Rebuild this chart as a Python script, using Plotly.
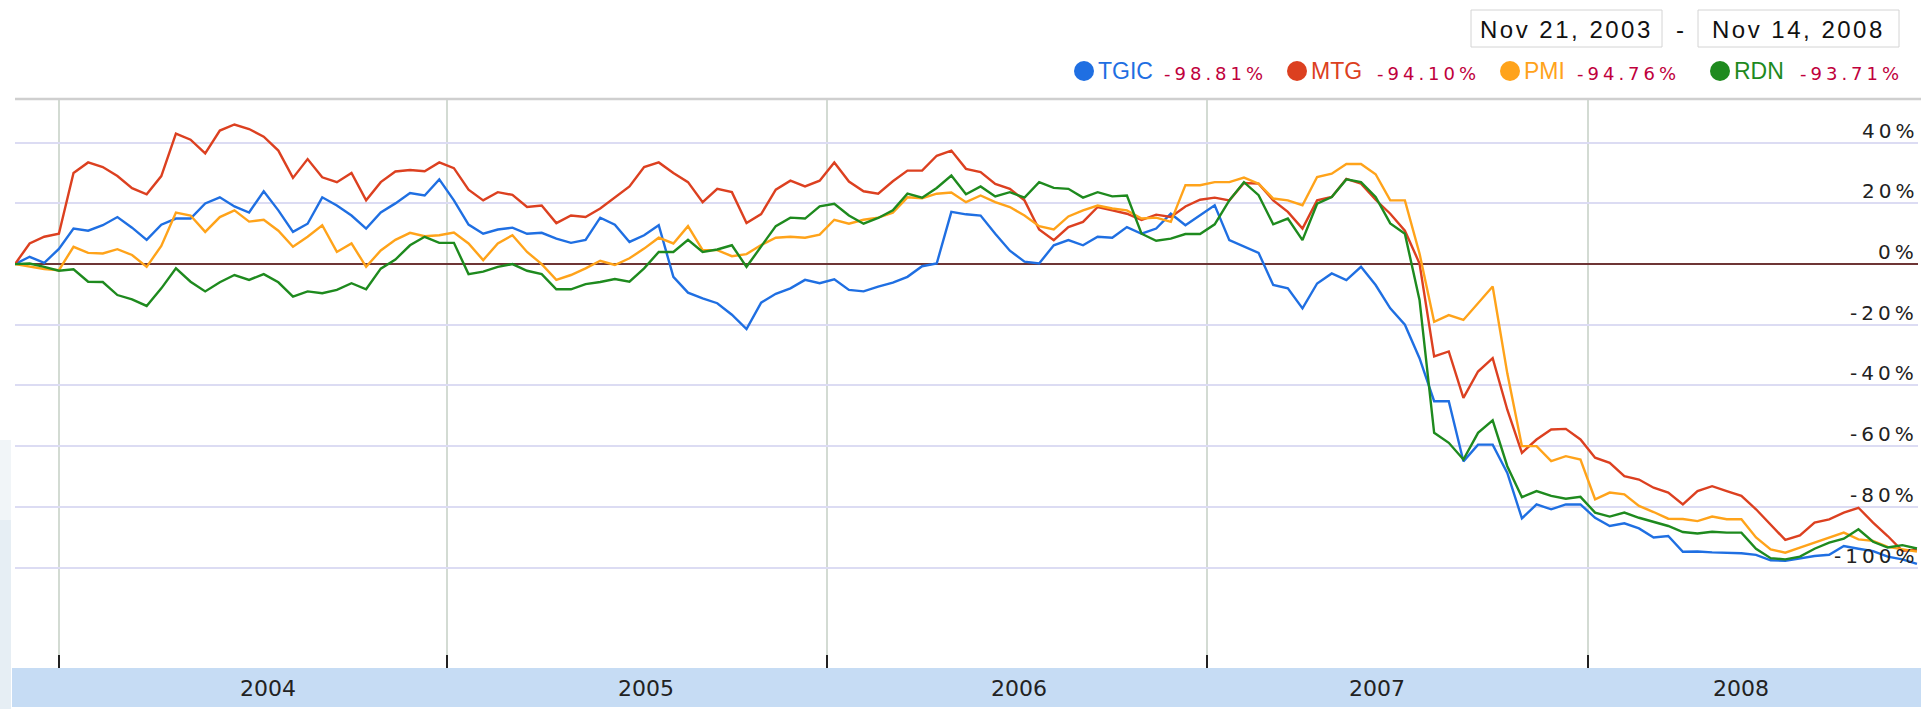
import plotly.graph_objects as go
import pandas as pd

# ---------------- data (bi-weekly samples) ----------------
start_date = "2003-11-21"
n_points = 131
dates = pd.date_range(start_date, periods=n_points, freq="14D")

tgic = [
    0, 2.4, 0.4, 5, 11.7, 11, 12.8, 15.5, 12, 8, 13, 15, 15, 20, 22, 19, 17, 24, 17.7, 10.6, 13.3, 22, 19.3, 16, 11.7, 17,
    20, 23.4, 22.6, 27.9, 21, 13, 10, 11.4, 12, 10, 10.3, 8.4, 7, 8, 15.3, 13, 7.3, 9.5, 12.8, -4.2, -9.4, -11.3, -12.9, -16.7, -21.4, -12.7,
    -9.8, -8, -5.2, -6.3, -5, -8.5, -9, -7.4, -6.1, -4.2, -0.7, 0.2, 17.2, 16.4, 16, 10, 4.4, 0.8, 0.2, 6.2, 7.9, 6.2, 9, 8.7, 12.2, 10,
    11.7, 16.6, 12.8, 16.1, 19.4, 7.9, 5.7, 3.7, -6.9, -8, -14.6, -6.4, -3.1, -5.3, -0.9, -6.9, -14.6, -20, -31, -45.2, -45.2, -65, -59.5, -59.5, -68.8, -83.8,
    -79.2, -80.8, -79.2, -79.2, -83.6, -86.3, -85.4, -87.1, -90.1, -89.6, -94.8, -94.7, -95, -95.1, -95.3, -95.8, -97.6, -97.8, -97, -96.2, -95.8, -92.9, -93.8, -94.6, -96.4, -97.3, -98.81,
]
mtg = [
    0, 6.8, 9, 10, 30, 33.5, 32, 29, 25, 23, 29, 43, 41, 36.5, 44, 46, 44.5, 42, 37.4, 28.4, 34.6, 28.6, 27, 30, 21, 27,
    30.5, 31, 30.6, 33.5, 31.6, 24.5, 21, 23.7, 22.8, 18.8, 19.3, 13.5, 16, 15.5, 18.3, 22, 25.6, 32, 33.5, 30, 27, 20.4, 24.8, 23.7, 13.5, 16.5,
    24.5, 27.5, 25.6, 27.5, 33.5, 27.2, 24, 23.2, 27.3, 30.8, 30.8, 35.7, 37.4, 31.4, 30.3, 26.4, 24.8, 21, 11.4, 7.9, 12.2, 13.9, 18.8, 17.7, 16.6, 14.5,
    16.3, 15.5, 19, 21.2, 21.9, 21, 26.7, 26.5, 21, 17.2, 11.7, 21, 22.1, 28.1, 26.5, 21.2, 16.6, 11, 0.2, -30.4, -28.8, -44.1, -35.4, -31, -48, -62.2,
    -57.8, -54.5, -54.3, -57.8, -63.8, -65.5, -69.9, -71, -73.7, -75.3, -79.2, -74.8, -73.2, -74.8, -76.4, -80.8, -85.8, -90.9, -89.4, -85.2, -84.1, -81.9, -80.3, -85.2, -89.6, -94.5, -94.1,
]
pmi = [
    0, -0.9, -1.6, -2, 5.7, 3.7, 3.5, 4.9, 3, -0.9, 6, 17, 16, 10.6, 15.5, 17.7, 14, 14.6, 11, 5.7, 9, 12.8, 4, 6.8, -0.9, 4.5,
    8, 10.3, 9.2, 9.5, 10.4, 6.8, 1.3, 6.8, 9.5, 4, 0, -5.2, -3.6, -1.4, 1.1, -0.3, 1.9, 5.1, 8.7, 6.8, 12.5, 4.6, 4.6, 2.6, 3.3, 6.3,
    8.7, 9, 8.7, 9.7, 14.6, 13.3, 14.6, 15.3, 16.9, 22, 21.7, 23.2, 23.6, 20.4, 22.6, 20.4, 18.8, 16, 12.5, 11.4, 15.7, 17.7, 19.3, 18.3, 17.7, 15,
    15.3, 13.9, 26, 26, 27, 27, 28.5, 26.5, 21.6, 21, 19.4, 28.7, 29.8, 33, 33, 29.6, 21, 21, 3.5, -19, -16.8, -18.4, -12.9, -7.4, -36, -60,
    -60, -64.9, -63.3, -64.4, -77.5, -75.3, -75.9, -79.7, -81.7, -83.9, -84, -84.7, -83.2, -84.1, -84.1, -90.1, -94, -95.1, -93.4, -91.8, -90.1, -88.5, -90.7, -91.2, -93.2, -94, -94.76,
]
rdn = [
    0, 0.2, -0.9, -2.2, -1.7, -5.8, -5.9, -10.2, -11.6, -13.8, -8, -1.4, -5.8, -9, -6, -3.6, -5.2, -3.3, -6, -10.7, -9, -9.6, -8.5, -6.3, -8.3, -1.5,
    1.5, 6.2, 9, 7, 7, -3.3, -2.5, -0.9, 0, -2.2, -3.3, -8.3, -8.3, -6.6, -5.9, -4.9, -5.8, -1.4, 4, 4, 8, 4, 4.8, 6.2, -0.9, 6,
    12.5, 15.3, 15, 19, 19.9, 16, 13.3, 15.2, 17.7, 23.2, 21.9, 25.1, 29.2, 23, 25.6, 22.3, 23.7, 21.9, 27, 25.1, 24.8, 21.9, 23.7, 22.3, 22.6, 10,
    7.7, 8.4, 9.9, 9.9, 13.1, 21, 27, 22.7, 13.1, 15, 7.9, 19.9, 22.1, 27.9, 27, 22.1, 13.4, 10, -11.8, -55.6, -58.9, -64.4, -55.6, -51.5, -66.6, -76.8,
    -74.8, -76.4, -77.3, -76.7, -81.9, -83.2, -81.9, -83.6, -85, -86.3, -88.3, -88.8, -88.2, -88.5, -88.5, -93.8, -96.9, -97.3, -96.4, -93.8, -91.8, -90.5, -87.4, -91.5, -93.4, -92.6, -93.71,
]

series_names = ["TGIC", "MTG", "PMI", "RDN"]
series_changes = ["-98.81%", "-94.10%", "-94.76%", "-93.71%"]
series_colors = ["#1f6fe2", "#dc4020", "#ffa31a", "#1e8a1e"]

y_tick_values = [40, 20, 0, -20, -40, -60, -80, -100]
y_tick_labels = ["40%", "20%", "0%", "-20%", "-40%", "-60%", "-80%", "-100%"]
year_lines = ["2004-01-02", "2005-01-07", "2006-01-06", "2007-01-05", "2008-01-04"]
year_labels = ["2004", "2005", "2006", "2007", "2008"]
year_label_dates = ["2004-07-20", "2005-07-17", "2006-07-09", "2007-06-16", "2008-05-30"]
date_from = "Nov 21, 2003"
date_to = "Nov 14, 2008"

# ---------------- layout geometry ----------------
W, H = 1927, 709
L, R, T, B = 15, 9, 99, 41
PW, PH = W - L - R, H - T - B


def px(x):
    return (x - L) / PW


def py(y):
    return (H - B - y) / PH


fig = go.Figure()
for name, vals, col in zip(series_names, [tgic, mtg, pmi, rdn], series_colors):
    fig.add_trace(go.Scatter(x=dates, y=vals, mode="lines", name=name,
                             line=dict(color=col, width=2.4), showlegend=False,
                             hoverinfo="skip"))

annotations = []
# y labels inside the plot on the right, just above the gridlines
for v, lab in zip(y_tick_values, y_tick_labels):
    annotations.append(dict(x=px(1920), xref="paper", y=v, yref="y", xanchor="right", yanchor="bottom",
                            yshift=-2, showarrow=False,
                            text=f'<span style="letter-spacing:4px">{lab}</span>',
                            font=dict(family="DejaVu Sans", size=20, color="#222222")))
# year labels in the bottom bar
for d, lab in zip(year_label_dates, year_labels):
    annotations.append(dict(x=d, xref="x", y=py(688), yref="paper", xanchor="center", yanchor="middle",
                            showarrow=False, text=lab,
                            font=dict(family="DejaVu Sans", size=22, color="#222222")))

# legend row: dot centre, name left, change left (pixels)
legend_layout = [
    (1084, 1096, 1162),
    (1297, 1309, 1375),
    (1510, 1522, 1575),
    (1720, 1732, 1798),
]
shapes = []
for (dot_x, name_x, chg_x), name, chg, col in zip(legend_layout, series_names, series_changes, series_colors):
    shapes.append(dict(type="circle", xref="paper", yref="paper", xsizemode="pixel", ysizemode="pixel",
                       xanchor=px(dot_x), yanchor=py(71), x0=-10, x1=10, y0=-10, y1=10,
                       fillcolor=col, line=dict(width=0)))
    annotations.append(dict(x=px(name_x), xref="paper", y=py(71), yref="paper", xanchor="left",
                            yanchor="middle", showarrow=False, text=name,
                            font=dict(family="Liberation Sans", size=23, color=col)))
    annotations.append(dict(x=px(chg_x), xref="paper", y=py(73), yref="paper", xanchor="left",
                            yanchor="middle", showarrow=False,
                            text=f'<span style="letter-spacing:4px">{chg}</span>',
                            font=dict(family="DejaVu Sans", size=18, color="#c0003c")))

# date range boxes
for (x0, x1), txt in [((1471, 1662), date_from), ((1698, 1899), date_to)]:
    shapes.append(dict(type="rect", xref="paper", yref="paper", x0=px(x0), x1=px(x1),
                       y0=py(47), y1=py(10), fillcolor="white", line=dict(color="#d4d4d4", width=1)))
    annotations.append(dict(x=px((x0 + x1) / 2), xref="paper", y=py(29), yref="paper", xanchor="center",
                            yanchor="middle", showarrow=False,
                            text=f'<span style="letter-spacing:2.5px">{txt}</span>',
                            font=dict(family="Liberation Sans", size=24, color="#111111")))
annotations.append(dict(x=px(1680), xref="paper", y=py(29), yref="paper", xanchor="center",
                        yanchor="middle", showarrow=False, text="-",
                        font=dict(family="Liberation Sans", size=24, color="#111111")))

# bottom blue bar, left strip, top border
shapes.append(dict(type="rect", xref="paper", yref="paper", x0=px(12), x1=px(1921), y0=0, y1=py(707),
                   fillcolor="#c6dcf4", line=dict(width=0), layer="below"))
shapes.append(dict(type="rect", xref="paper", yref="paper", x0=px(0), x1=px(11), y0=py(709), y1=py(520),
                   fillcolor="#e6eef4", line=dict(width=0), layer="below"))
shapes.append(dict(type="rect", xref="paper", yref="paper", x0=px(0), x1=px(11), y0=py(520), y1=py(440),
                   fillcolor="#f1f5f8", line=dict(width=0), layer="below"))
shapes.append(dict(type="line", xref="paper", yref="paper", x0=px(15), x1=px(1921), y0=1, y1=1,
                   line=dict(color="#cfcfcf", width=2.5)))

fig.update_layout(
    width=W, height=H,
    margin=dict(l=L, r=R, t=T, b=B, pad=0),
    paper_bgcolor="white", plot_bgcolor="white",
    annotations=annotations, shapes=shapes,
    showlegend=False,
    xaxis=dict(type="date", range=["2003-11-21", "2008-11-15"], tickvals=year_lines,
               showticklabels=False, showgrid=True, gridcolor="#d3dbd3", gridwidth=1.5,
               ticks="inside", ticklen=13, tickwidth=2, tickcolor="#222222",
               showline=False, zeroline=False),
    yaxis=dict(range=[-133.1, 54.4], tickvals=[v for v in y_tick_values if v != 0],
               showticklabels=False, showgrid=True, gridcolor="#dcdcf3", gridwidth=2,
               zeroline=True, zerolinecolor="#6e3535", zerolinewidth=2,
               showline=False, ticks=""),
)

fig.write_html("out.html", config={"displayModeBar": False},
               post_script="document.body.style.margin='0px';")
